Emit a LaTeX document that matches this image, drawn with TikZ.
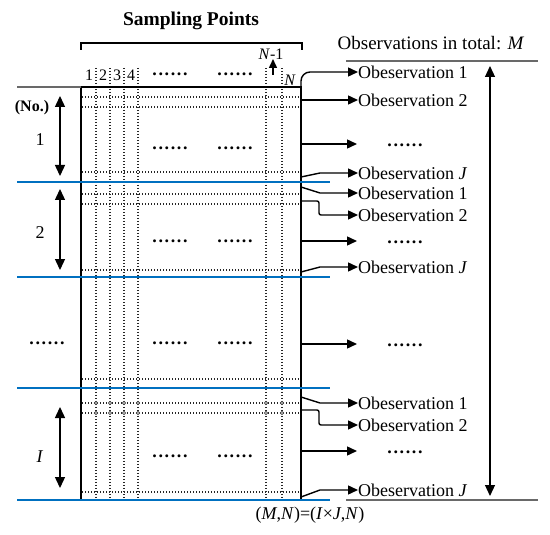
\documentclass[tikz,border=0pt]{standalone}
\usepackage{fontspec}
\setmainfont{Liberation Serif}
\usetikzlibrary{arrows.meta}
\definecolor{lblue}{RGB}{0,112,192}
\definecolor{dgray}{RGB}{105,105,105}
\newcommand{\sixdots}{{\bfseries\addfontfeatures{LetterSpace=9}......}}
\tikzset{
  gridline/.style={line width=1.1pt, dash pattern=on 1.1pt off 1.9pt, black!85},
  blueline/.style={line width=2.5pt, lblue},
  conn/.style={line width=1.4pt, -{Triangle[length=10pt,width=9pt]}},
  dbl/.style={line width=1.4pt, {Triangle[length=11pt,width=10pt]}-{Triangle[length=11pt,width=10pt]}},
  obs/.style={anchor=west, inner sep=0pt},
  plain/.style={inner sep=0pt},
  smalltxt/.style={inner sep=0pt, font=\fontsize{16}{18}\selectfont},
}
\begin{document}
\begin{tikzpicture}[x=1pt,y=-1pt,font=\fontsize{18}{21}\selectfont]
\useasboundingbox (0,0) rectangle (550,535);

% title and bracket
\node[plain, font=\fontsize{19.5}{22}\selectfont\bfseries] (title) at (191,21) {Sampling Points};
\coordinate (bl) at (81,50);
\coordinate (br) at (302,50);
\draw[line width=1.8pt] (bl) -- ++(0,-7) -| (br);

% column labels
\foreach \t/\xx in {1/89,2/103,3/117,4/131}
  \node[smalltxt] (c\t) at (\xx,75) {\t};
\node[plain] (hd1) at (170,74) {\sixdots};
\node[plain] (hd2) at (235,74) {\sixdots};
\node[smalltxt] (nm1) at (271,54) {\textit{N}-1};
\node[smalltxt] (nn) at (290,80) {\textit{N}};
\coordinate (nma) at (273,75);
\coordinate (nmb) at (273,59);
\draw[line width=1.5pt, -{Triangle[length=9pt,width=8pt]}] (nma) -- (nmb);

% grid
\foreach \xx in {96,110,124,138,266,282}
  \draw[gridline] (\xx,68) -- (\xx,500);
\foreach \yy in {97,107,172,194,204,270,379,403,413,492}
  \draw[gridline] (82,\yy) -- (301,\yy);
\foreach \yy in {403,413}
  \foreach \xx in {96,110,124,138,266,282}
    \draw[line width=0.7pt, black!75, fill=white] (\xx,\yy) circle [radius=1.7pt];

% main matrix
\node[draw, line width=2.3pt, anchor=north west, inner sep=0pt, outer sep=0pt,
      minimum width=220pt, minimum height=413pt] (mat) at (81,87) {};
\coordinate (tl) at (17,87);
\draw[line width=1.4pt, dgray] (tl) -- (mat.north west);

% inner dots
\foreach \yy/\n in {148/a,241/b,343/c,456/d}{
  \node[plain] (m1\n) at (170,\yy) {\sixdots};
  \node[plain] (m2\n) at (235,\yy) {\sixdots};
}

% blue separators
\foreach \yy/\n in {182/1,277/2,388/3,500/4}{
  \coordinate (bl\n) at (17,\yy);
  \coordinate (br\n) at (330,\yy);
  \draw[blueline] (bl\n) -- (br\n);
}

% left labels
\node[plain, font=\fontsize{16}{18}\selectfont\bfseries] (no) at (32,108) {(No.)};
\node[plain] (l1) at (40,140) {1};
\node[plain] (l2) at (40,233) {2};
\node[plain] (l3) at (47,343) {\sixdots};
\node[plain] (l4) at (40,457) {\textit{I}};
\coordinate (a1t) at (60,96);  \coordinate (a1b) at (60,176);
\coordinate (a2t) at (60,189); \coordinate (a2b) at (60,270);
\coordinate (a4t) at (60,407); \coordinate (a4b) at (60,488);
\draw[dbl] (a1t) -- (a1b);
\draw[dbl] (a2t) -- (a2b);
\draw[dbl] (a4t) -- (a4b);

% right header
\node[plain, font=\fontsize{19}{22}\selectfont] (tot) at (431,43) {Observations in total: \textit{M}};
\coordinate (gt1) at (346,61); \coordinate (gt2) at (538,61);
\coordinate (gb1) at (346,500); \coordinate (gb2) at (538,500);
\draw[line width=1.8pt, dgray] (gt1) -- (gt2);
\draw[line width=1.8pt, dgray] (gb1) -- (gb2);
\coordinate (mt) at (490,66);
\coordinate (mb) at (490,496);
\draw[dbl, line width=1.2pt] (mt) -- (mb);

% block 1 observations
\node[obs] (o11) at (358,72) {Obeservation 1};
\node[obs] (o12) at (358,100) {Obeservation 2};
\node[plain] (o13) at (405,145) {\sixdots};
\coordinate (o13a) at (357,144);
\node[obs] (o1J) at (358,173) {Obeservation \textit{J}};
\draw[conn, rounded corners=9pt] (mat.north east) |- (o11.west);
\draw[conn] (mat.east |- o12.west) -- (o12.west);
\draw[conn] (mat.east |- o13a) -- (o13a);
\coordinate (s1J) at (301,177);
\coordinate (k1J) at (320,173);
\draw[conn] (s1J) -- (k1J) -- (o1J.west);

% block 2 observations
\node[obs] (o21) at (358,193) {Obeservation 1};
\node[obs] (o22) at (358,215) {Obeservation 2};
\node[plain] (o23) at (405,242) {\sixdots};
\coordinate (o23a) at (357,241);
\node[obs] (o2J) at (358,267) {Obeservation \textit{J}};
\coordinate (s21) at (301,187); \coordinate (k21) at (320,193);
\draw[conn] (s21) -- (k21) -- (o21.west);
\coordinate (s22) at (301,201); \coordinate (k22) at (319,201);
\draw[conn, rounded corners=2pt] (s22) -- (k22) |- (o22.west);
\draw[conn] (mat.east |- o23a) -- (o23a);
\coordinate (s2J) at (301,272); \coordinate (k2J) at (320,267);
\draw[conn] (s2J) -- (k2J) -- (o2J.west);

% middle
\node[plain] (o33) at (405,345) {\sixdots};
\coordinate (o33a) at (357,344);
\draw[conn] (mat.east |- o33a) -- (o33a);

% block I observations
\node[obs] (o41) at (358,403) {Obeservation 1};
\node[obs] (o42) at (358,425) {Obeservation 2};
\node[plain] (o43) at (405,452) {\sixdots};
\coordinate (o43a) at (357,451);
\node[obs] (o4J) at (358,490) {Obeservation \textit{J}};
\coordinate (s41) at (301,397); \coordinate (k41) at (320,403);
\draw[conn] (s41) -- (k41) -- (o41.west);
\coordinate (s42) at (301,410); \coordinate (k42) at (319,410);
\draw[conn, rounded corners=2pt] (s42) -- (k42) |- (o42.west);
\draw[conn] (mat.east |- o43a) -- (o43a);
\coordinate (s4J) at (301,497); \coordinate (k4J) at (320,490);
\draw[conn] (s4J) -- (k4J) -- (o4J.west);

% bottom formula
\node[plain] (dim) at (310,515) {(\textit{M},\textit{N})=(\textit{I}×\textit{J},\textit{N})};
\end{tikzpicture}
\end{document}
